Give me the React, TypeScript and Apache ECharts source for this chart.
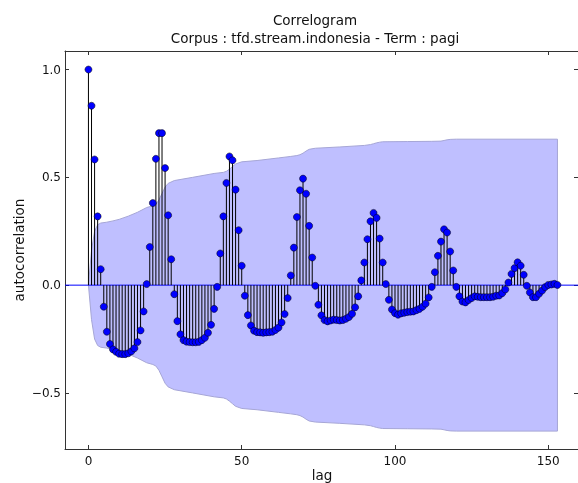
import React, { useEffect, useRef } from "react";
import * as echarts from "echarts";

// autocorrelation per lag (lag = index)
const acf = [
  1.0, 0.832, 0.583, 0.319, 0.074, -0.1, -0.216, -0.273, -0.298, -0.309,
  -0.318, -0.32, -0.32, -0.316, -0.307, -0.293, -0.264, -0.21, -0.122, 0.005,
  0.177, 0.381, 0.586, 0.705, 0.705, 0.543, 0.324, 0.12, -0.042, -0.167,
  -0.228, -0.255, -0.262, -0.264, -0.265, -0.265, -0.263, -0.255, -0.244, -0.221,
  -0.184, -0.11, -0.008, 0.147, 0.319, 0.474, 0.597, 0.579, 0.443, 0.255,
  0.09, -0.049, -0.139, -0.187, -0.211, -0.218, -0.219, -0.221, -0.219, -0.218,
  -0.216, -0.208, -0.197, -0.173, -0.134, -0.06, 0.045, 0.174, 0.316, 0.44,
  0.494, 0.424, 0.275, 0.128, -0.003, -0.091, -0.14, -0.162, -0.168, -0.164,
  -0.16, -0.162, -0.164, -0.162, -0.156, -0.148, -0.133, -0.103, -0.052, 0.022,
  0.105, 0.213, 0.296, 0.335, 0.312, 0.216, 0.105, 0.005, -0.068, -0.113,
  -0.13, -0.137, -0.131, -0.128, -0.125, -0.123, -0.122, -0.116, -0.11, -0.1,
  -0.086, -0.057, -0.008, 0.06, 0.136, 0.202, 0.259, 0.244, 0.156, 0.068,
  -0.008, -0.052, -0.076, -0.08, -0.069, -0.06, -0.052, -0.054, -0.056, -0.056,
  -0.056, -0.056, -0.054, -0.049, -0.048, -0.037, -0.02, 0.012, 0.052, 0.079,
  0.106, 0.09, 0.048, -0.003, -0.034, -0.056, -0.056, -0.04, -0.025, -0.009,
  0.001, 0.003, 0.006, 0.001,
];
const lags = acf.map((_, i) => i);

// confidence band (half-width, symmetric around 0), read at these lags
const bandLags = [
  0, 1, 2, 3, 4, 6, 8, 10, 13, 16, 19, 21, 22, 23, 24, 25, 26, 28, 34, 41,
  44, 45, 46, 47, 48, 50, 55, 62, 66, 68, 69, 70, 71, 72, 74, 82, 90, 92, 93,
  94, 95, 96, 104, 112, 115, 116, 117, 118, 120, 153,
];
const bandHalfWidth = [
  0, 0.16, 0.25, 0.28, 0.288, 0.292, 0.298, 0.305, 0.32, 0.338, 0.36, 0.368,
  0.375, 0.395, 0.425, 0.455, 0.472, 0.485, 0.5, 0.518, 0.523, 0.528, 0.538,
  0.55, 0.562, 0.572, 0.578, 0.59, 0.597, 0.601, 0.605, 0.612, 0.622, 0.63,
  0.635, 0.641, 0.648, 0.652, 0.656, 0.66, 0.663, 0.665, 0.666, 0.667, 0.668,
  0.671, 0.674, 0.676, 0.677, 0.677,
];

const xTicks = [0, 50, 100, 150];
const yTicks = [-0.5, 0, 0.5, 1.0];
const titleText = "Correlogram";
const subtitleText = "Corpus : tfd.stream.indonesia - Term : pagi";

const X_MIN = -7.65;
const X_MAX = 159.7;
const Y_MIN = -0.76;
const Y_MAX = 1.086;
const FONT = "DejaVu Sans";

function fmtY(v: number) {
  const s = Math.abs(v).toFixed(1);
  return v < 0 ? "\u2212" + s : s;
}

export default function App() {
  const ref = useRef<HTMLDivElement>(null);
  useEffect(() => {
    document.body.style.margin = "0";
    const chart = echarts.init(ref.current!, undefined, { renderer: "svg" });
    const axisColor = "#333";
    const baseX = {
      type: "value",
      min: X_MIN,
      max: X_MAX,
      splitLine: { show: false },
      axisLine: { show: true, onZero: false, lineStyle: { color: axisColor, width: 1 } },
      axisTick: { show: true, inside: true, length: 4, customValues: xTicks, lineStyle: { color: axisColor } },
    };
    const baseY = {
      type: "value",
      min: Y_MIN,
      max: Y_MAX,
      splitLine: { show: false },
      axisLine: { show: true, onZero: false, lineStyle: { color: axisColor, width: 1 } },
      axisTick: { show: true, inside: true, length: 4, customValues: yTicks, lineStyle: { color: axisColor } },
    };
    const last = bandLags.length - 1;
    chart.setOption({
      animation: false,
      grid: { left: 65, top: 51, right: 0, height: 398, containLabel: false },
      xAxis: [
        {
          ...baseX,
          position: "bottom",
          axisLabel: {
            show: true,
            customValues: xTicks,
            margin: 6,
            color: "#111",
            fontFamily: FONT,
            fontSize: 12,
            formatter: (v: number) => String(v),
          },
        },
        { ...baseX, position: "top", axisLabel: { show: false } },
      ],
      yAxis: [
        {
          ...baseY,
          position: "left",
          axisLabel: {
            show: true,
            customValues: yTicks,
            margin: 4,
            color: "#111",
            fontFamily: FONT,
            fontSize: 12,
            formatter: (v: number) => fmtY(v),
          },
        },
        {
          ...baseY,
          position: "right",
          axisLine: { show: false, onZero: false },
          axisLabel: { show: false },
        },
      ],
      graphic: [
        {
          type: "text",
          x: 315,
          y: 20,
          style: { text: titleText, font: `13.5px "${FONT}"`, fill: "#111", textAlign: "center", textVerticalAlign: "middle" },
        },
        {
          type: "text",
          x: 315,
          y: 38,
          style: { text: subtitleText, font: `13.5px "${FONT}"`, fill: "#111", textAlign: "center", textVerticalAlign: "middle" },
        },
        {
          type: "text",
          x: 322,
          y: 475,
          style: { text: "lag", font: `13.5px "${FONT}"`, fill: "#111", textAlign: "center", textVerticalAlign: "middle" },
        },
        {
          type: "text",
          x: 19,
          y: 250,
          rotation: Math.PI / 2,
          style: { text: "autocorrelation", font: `13.5px "${FONT}"`, fill: "#111", textAlign: "center", textVerticalAlign: "middle" },
        },
      ],
      series: [
        {
          type: "line",
          data: bandLags.map((l, i) => [l, bandHalfWidth[i]]),
          symbol: "none",
          lineStyle: { color: "#a6a6d6", width: 1 },
          areaStyle: { color: "#bfbfff", opacity: 1 },
          silent: true,
          z: 1,
        },
        {
          type: "line",
          data: bandLags.map((l, i) => [l, -bandHalfWidth[i]]),
          symbol: "none",
          lineStyle: { color: "#a6a6d6", width: 1 },
          areaStyle: { color: "#bfbfff", opacity: 1 },
          silent: true,
          z: 1,
        },
        {
          type: "line",
          data: [
            [bandLags[last], -bandHalfWidth[last]],
            [bandLags[last], bandHalfWidth[last]],
          ],
          symbol: "none",
          lineStyle: { color: "#a6a6d6", width: 1 },
          silent: true,
          z: 1,
        },
        {
          type: "line",
          data: [
            [X_MIN, 0],
            [X_MAX, 0],
          ],
          symbol: "none",
          lineStyle: { color: "#0000ff", width: 1 },
          silent: true,
          z: 2,
        },
        {
          type: "custom",
          data: lags.map((l, i) => [l, acf[i]]),
          renderItem: (params: any, api: any) => {
            const x = api.value(0);
            const y = api.value(1);
            const p0 = api.coord([x, 0]);
            const p1 = api.coord([x, y]);
            return {
              type: "line",
              shape: { x1: p0[0], y1: p0[1], x2: p1[0], y2: p1[1] },
              style: { stroke: "#000", lineWidth: 1 },
            };
          },
          silent: true,
          z: 3,
        },
        {
          type: "scatter",
          data: lags.map((l, i) => [l, acf[i]]),
          symbol: "circle",
          symbolSize: 7,
          itemStyle: { color: "#0000ff", borderColor: "#000", borderWidth: 0.5, opacity: 1 },
          silent: true,
          z: 4,
        },
      ],
    });
    return () => chart.dispose();
  }, []);
  return <div ref={ref} style={{ position: "fixed", left: 0, top: 0, width: 578, height: 483 }} />;
}
